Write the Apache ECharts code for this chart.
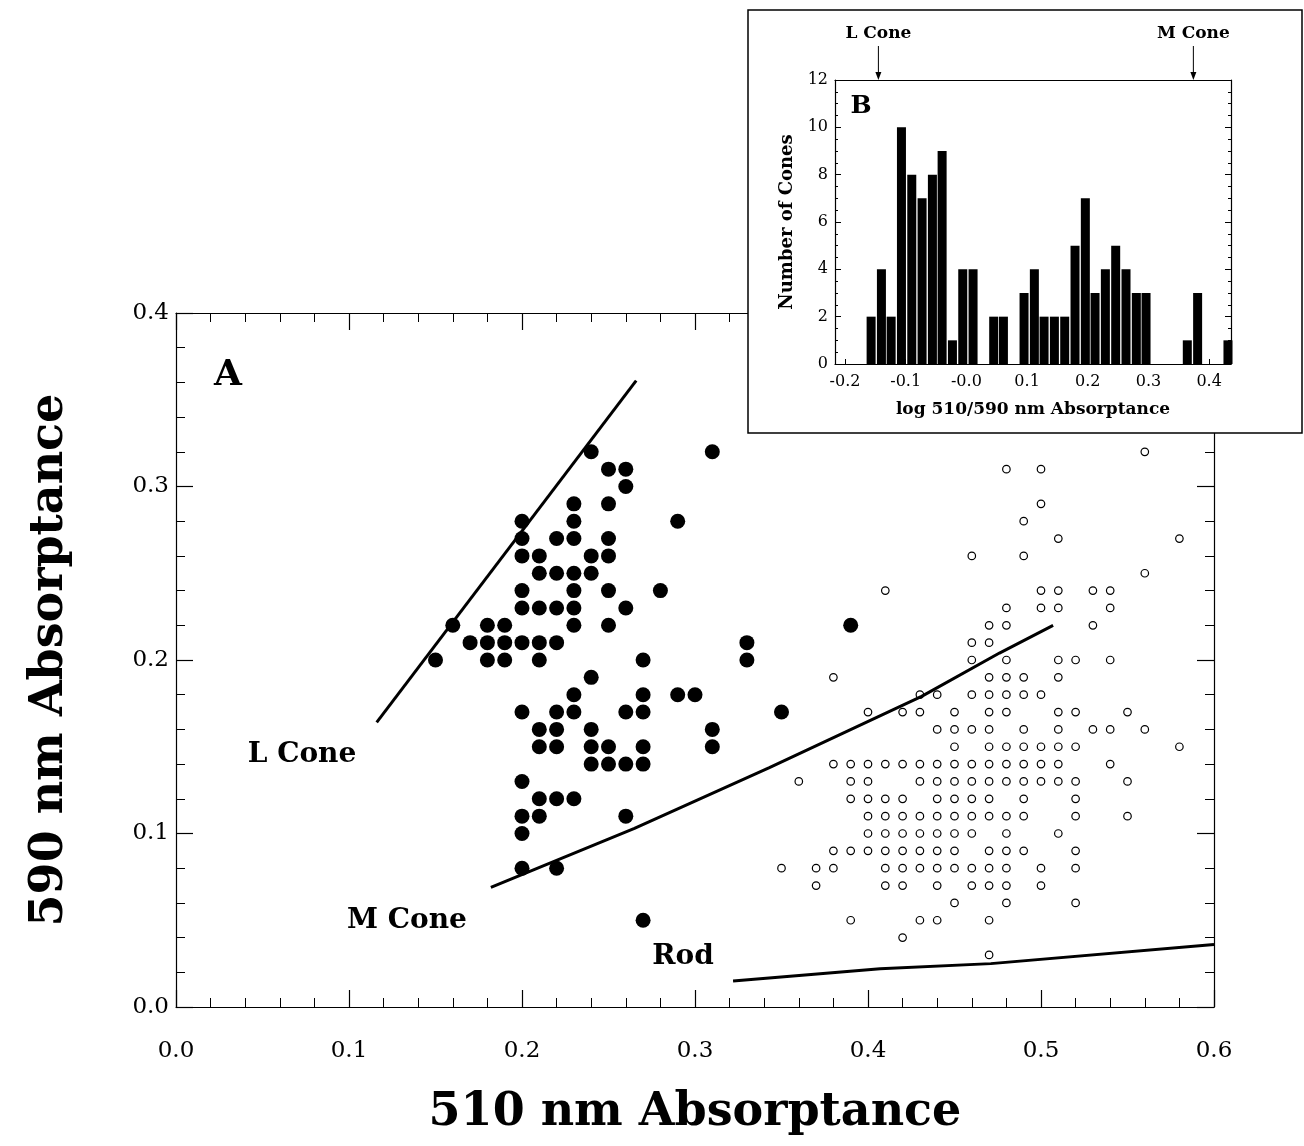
<!DOCTYPE html>
<html><head><meta charset="utf-8">
<script src="https://cdn.jsdelivr.net/npm/echarts@6/dist/echarts.min.js"></script>
<style>html,body{margin:0;padding:0;background:#fff}#c{width:1304px;height:1146px}</style>
</head><body><div id="c"></div>
<script>
const FONT = '"DejaVu Serif", "Liberation Serif", serif';

// Panel A: filled dots (cones)
const coneDots = [
 [0.15,0.20],[0.16,0.22],[0.17,0.21],
 [0.18,0.22],[0.18,0.21],[0.18,0.20],
 [0.19,0.22],[0.19,0.21],[0.19,0.20],
 [0.20,0.28],[0.20,0.27],[0.20,0.26],[0.20,0.24],[0.20,0.23],[0.20,0.21],[0.20,0.17],[0.20,0.13],[0.20,0.11],[0.20,0.10],[0.20,0.08],
 [0.21,0.26],[0.21,0.25],[0.21,0.23],[0.21,0.21],[0.21,0.20],[0.21,0.16],[0.21,0.15],[0.21,0.12],[0.21,0.11],
 [0.22,0.27],[0.22,0.25],[0.22,0.23],[0.22,0.21],[0.22,0.17],[0.22,0.16],[0.22,0.15],[0.22,0.12],[0.22,0.08],
 [0.23,0.29],[0.23,0.28],[0.23,0.27],[0.23,0.25],[0.23,0.24],[0.23,0.23],[0.23,0.22],[0.23,0.18],[0.23,0.17],[0.23,0.12],
 [0.24,0.32],[0.24,0.26],[0.24,0.25],[0.24,0.19],[0.24,0.16],[0.24,0.15],[0.24,0.14],
 [0.25,0.31],[0.25,0.29],[0.25,0.27],[0.25,0.26],[0.25,0.24],[0.25,0.22],[0.25,0.15],[0.25,0.14],
 [0.26,0.31],[0.26,0.30],[0.26,0.23],[0.26,0.17],[0.26,0.14],[0.26,0.11],
 [0.27,0.20],[0.27,0.18],[0.27,0.17],[0.27,0.15],[0.27,0.14],[0.27,0.05],
 [0.28,0.24],[0.29,0.28],[0.29,0.18],[0.30,0.18],[0.31,0.32],[0.31,0.16],[0.31,0.15],
 [0.33,0.21],[0.33,0.20],[0.35,0.17],[0.39,0.22]
];

// Panel A: open circles (rods)
const rodDots = [
 [0.56,0.32],
 [0.48,0.31],[0.50,0.31],
 [0.50,0.29],
 [0.49,0.28],
 [0.51,0.27],[0.58,0.27],
 [0.46,0.26],[0.49,0.26],
 [0.56,0.25],
 [0.41,0.24],[0.50,0.24],[0.51,0.24],[0.53,0.24],[0.54,0.24],
 [0.48,0.23],[0.50,0.23],[0.51,0.23],[0.54,0.23],
 [0.47,0.22],[0.48,0.22],[0.53,0.22],
 [0.46,0.21],[0.47,0.21],
 [0.46,0.20],[0.48,0.20],[0.51,0.20],[0.52,0.20],[0.54,0.20],
 [0.38,0.19],[0.47,0.19],[0.48,0.19],[0.49,0.19],[0.51,0.19],
 [0.43,0.18],[0.44,0.18],[0.46,0.18],[0.47,0.18],[0.48,0.18],[0.49,0.18],[0.50,0.18],
 [0.40,0.17],[0.42,0.17],[0.43,0.17],[0.45,0.17],[0.47,0.17],[0.48,0.17],[0.51,0.17],[0.52,0.17],[0.55,0.17],
 [0.44,0.16],[0.45,0.16],[0.46,0.16],[0.47,0.16],[0.49,0.16],[0.51,0.16],[0.53,0.16],[0.54,0.16],[0.56,0.16],
 [0.45,0.15],[0.47,0.15],[0.48,0.15],[0.49,0.15],[0.50,0.15],[0.51,0.15],[0.52,0.15],[0.58,0.15],
 [0.38,0.14],[0.39,0.14],[0.40,0.14],[0.41,0.14],[0.42,0.14],[0.43,0.14],[0.44,0.14],[0.45,0.14],[0.46,0.14],[0.47,0.14],[0.48,0.14],[0.49,0.14],[0.50,0.14],[0.51,0.14],[0.54,0.14],
 [0.36,0.13],[0.39,0.13],[0.40,0.13],[0.43,0.13],[0.44,0.13],[0.45,0.13],[0.46,0.13],[0.47,0.13],[0.48,0.13],[0.49,0.13],[0.50,0.13],[0.51,0.13],[0.52,0.13],[0.55,0.13],
 [0.39,0.12],[0.40,0.12],[0.41,0.12],[0.42,0.12],[0.44,0.12],[0.45,0.12],[0.46,0.12],[0.47,0.12],[0.49,0.12],[0.52,0.12],
 [0.40,0.11],[0.41,0.11],[0.42,0.11],[0.43,0.11],[0.44,0.11],[0.45,0.11],[0.46,0.11],[0.47,0.11],[0.48,0.11],[0.49,0.11],[0.52,0.11],[0.55,0.11],
 [0.40,0.10],[0.41,0.10],[0.42,0.10],[0.43,0.10],[0.44,0.10],[0.45,0.10],[0.46,0.10],[0.48,0.10],[0.51,0.10],
 [0.38,0.09],[0.39,0.09],[0.40,0.09],[0.41,0.09],[0.42,0.09],[0.43,0.09],[0.44,0.09],[0.45,0.09],[0.47,0.09],[0.48,0.09],[0.49,0.09],[0.52,0.09],
 [0.35,0.08],[0.37,0.08],[0.38,0.08],[0.41,0.08],[0.42,0.08],[0.43,0.08],[0.44,0.08],[0.45,0.08],[0.46,0.08],[0.47,0.08],[0.48,0.08],[0.50,0.08],[0.52,0.08],
 [0.37,0.07],[0.41,0.07],[0.42,0.07],[0.44,0.07],[0.46,0.07],[0.47,0.07],[0.48,0.07],[0.50,0.07],
 [0.45,0.06],[0.48,0.06],[0.52,0.06],
 [0.39,0.05],[0.43,0.05],[0.44,0.05],[0.47,0.05],
 [0.42,0.04],
 [0.47,0.03]
];

// Panel A: reference lines
const lConeLine = [[0.116,0.164],[0.266,0.361]];
const mConeLine = [[0.182,0.069],[0.265,0.103],[0.343,0.138],[0.431,0.179],[0.476,0.204],[0.507,0.220]];
const rodLine = [[0.322,0.015],[0.407,0.022],[0.471,0.025],[0.600,0.036]];

// Panel B: histogram
const histCenters = [-0.157,-0.140,-0.124,-0.107,-0.090,-0.073,-0.056,-0.040,-0.023,-0.006,0.011,
  0.045,0.061,
  0.095,0.112,0.128,0.145,0.162,0.179,0.196,0.212,0.229,0.246,0.263,0.280,0.296,
  0.364,0.381,0.431];
const histCounts = [2,4,2,10,8,7,8,9,1,4,4,
  2,2,
  3,4,2,2,2,5,7,3,4,5,4,3,3,
  1,3,1];
const histTickValues = [-0.2,-0.1,0,0.1,0.2,0.3,0.4];
const histArrowRatios = [-0.145, 0.374];
const histArrowNames = ['L Cone','M Cone'];

const black = '#000';
const mainTick = {show:true, inside:true, length:17, lineStyle:{color:black, width:1.2}};
const mainMinor = {show:true, splitNumber:5, length:9, lineStyle:{color:black, width:1}};
const line = {show:true, onZero:false, lineStyle:{color:black, width:1.2}};

const option = {
  animation:false,
  backgroundColor:'#fff',
  grid:[
    {left:176, right:90, top:313, bottom:139},
    {left:835, right:73, top:80, bottom:782, z:20}
  ],
  xAxis:[
    {gridIndex:0, type:'value', min:0, max:0.6, interval:0.1, position:'bottom',
     axisLine:line, axisTick:mainTick, minorTick:mainMinor, splitLine:{show:false},
     axisLabel:{margin:33, fontSize:23, fontFamily:FONT, color:black, formatter:v=>v.toFixed(1)},
     name:'510 nm Absorptance', nameLocation:'middle', nameGap:83,
     nameTextStyle:{fontSize:46, fontWeight:'bold', fontFamily:FONT, color:black}},
    {gridIndex:0, type:'value', min:0, max:0.6, interval:0.1, position:'top',
     axisLine:line, axisTick:mainTick, minorTick:mainMinor, splitLine:{show:false},
     axisLabel:{show:false}},
    {gridIndex:1, type:'value', min:-0.2165, max:0.436, position:'bottom', z:20,
     axisLine:line, splitLine:{show:false},
     axisTick:{show:true, inside:true, length:5, customValues:histTickValues, lineStyle:{color:black}},
     axisLabel:{customValues:histTickValues, margin:10, fontSize:16, fontFamily:FONT, color:black,
       formatter:v=>Math.abs(v)<1e-6 ? '-0.0' : v.toFixed(1)},
     name:'log 510/590 nm Absorptance', nameLocation:'middle', nameGap:37,
     nameTextStyle:{fontSize:17, fontWeight:'bold', fontFamily:FONT, color:black}},
    {gridIndex:1, type:'value', min:-0.2165, max:0.436, position:'top', z:20,
     axisLine:line, splitLine:{show:false}, axisTick:{show:false}, axisLabel:{show:false}}
  ],
  yAxis:[
    {gridIndex:0, type:'value', min:0, max:0.4, interval:0.1, position:'left',
     axisLine:line, axisTick:mainTick, minorTick:mainMinor, splitLine:{show:false},
     axisLabel:{margin:7, fontSize:23, fontFamily:FONT, color:black, formatter:v=>v.toFixed(1)},
     name:'590 nm Absorptance', nameLocation:'middle', nameGap:103,
     nameTextStyle:{fontSize:46, fontWeight:'bold', fontFamily:FONT, color:black}},
    {gridIndex:0, type:'value', min:0, max:0.4, interval:0.1, position:'right',
     axisLine:line, axisTick:mainTick, minorTick:mainMinor, splitLine:{show:false},
     axisLabel:{show:false}},
    {gridIndex:1, type:'value', min:0, max:12, interval:2, position:'left', z:20,
     axisLine:line, splitLine:{show:false},
     axisTick:{show:true, inside:true, length:6, lineStyle:{color:black}},
     minorTick:{show:true, splitNumber:4, length:3, lineStyle:{color:black}},
     axisLabel:{margin:7, fontSize:16, fontFamily:FONT, color:black},
     name:'Number of Cones', nameLocation:'middle', nameGap:39,
     nameTextStyle:{fontSize:18, fontWeight:'bold', fontFamily:FONT, color:black}},
    {gridIndex:1, type:'value', min:0, max:12, interval:2, position:'right', z:20,
     axisLine:line, splitLine:{show:false},
     axisTick:{show:true, inside:true, length:6, lineStyle:{color:black}},
     minorTick:{show:true, splitNumber:4, length:3, lineStyle:{color:black}},
     axisLabel:{show:false}}
  ],
  series:[
    {type:'scatter', xAxisIndex:0, yAxisIndex:0, data:rodDots, symbol:'circle', symbolSize:7.5,
     itemStyle:{color:'#fff', borderColor:black, borderWidth:1.2, opacity:1}, emphasis:{disabled:true}, z:3},
    {type:'scatter', xAxisIndex:0, yAxisIndex:0, data:coneDots, symbol:'circle', symbolSize:15,
     itemStyle:{color:black, opacity:1}, emphasis:{disabled:true}, z:3},
    {type:'line', xAxisIndex:0, yAxisIndex:0, data:lConeLine, symbol:'none', lineStyle:{color:black, width:3}, z:4},
    {type:'line', xAxisIndex:0, yAxisIndex:0, data:mConeLine, symbol:'none', lineStyle:{color:black, width:3}, z:4},
    {type:'line', xAxisIndex:0, yAxisIndex:0, data:rodLine, symbol:'none', lineStyle:{color:black, width:3}, z:4},
    {type:'bar', xAxisIndex:2, yAxisIndex:2, data:histCenters.map((c,i)=>[c,histCounts[i]]),
     barWidth:9, itemStyle:{color:black, opacity:1}, z:20}
  ]
};

const chart = echarts.init(document.getElementById('c'), null, {renderer:'canvas'});
chart.setOption(option);

const g = [];
g.push({type:'rect', z:10, shape:{x:748, y:10, width:554, height:423},
  style:{fill:'#fff', stroke:black, lineWidth:1.5}});
function txt(t, x, y, size){
  return {type:'text', z:30, style:{text:t, x:x, y:y,
    font:'bold '+size+'px '+FONT, fill:black, textAlign:'center', textVerticalAlign:'middle'}};
}
g.push(txt('A', 228, 376, 36));
g.push(txt('L Cone', 302, 755, 28));
g.push(txt('M Cone', 407, 921, 28));
g.push(txt('Rod', 683, 957, 28));
g.push(txt('B', 861, 106, 25));
histArrowRatios.forEach((r,i)=>{
  const p = chart.convertToPixel({gridIndex:1}, [r, 12]);
  g.push({type:'line', z:30, shape:{x1:p[0], y1:46, x2:p[0], y2:p[1]-6}, style:{stroke:black, lineWidth:1}});
  g.push({type:'polygon', z:30, shape:{points:[[p[0]-3,p[1]-8],[p[0]+3,p[1]-8],[p[0],p[1]]]}, style:{fill:black}});
  g.push(txt(histArrowNames[i], p[0], 34, 17));
});
chart.setOption({graphic:g});
</script></body></html>
